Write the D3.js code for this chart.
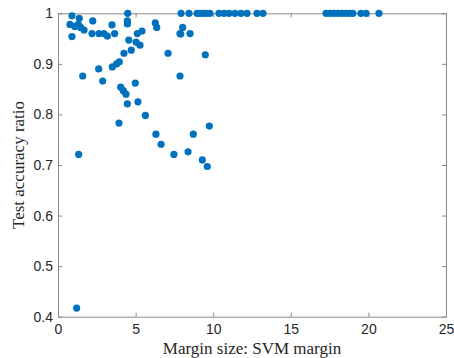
<!DOCTYPE html>
<html>
<head>
<meta charset="utf-8">
<script src="https://cdn.jsdelivr.net/npm/d3@7"></script>
<style>
  html, body { margin: 0; padding: 0; background: #fff; }
  svg { display: block; }
</style>
</head>
<body>
<svg id="chart" width="454" height="358"></svg>
<script>
// SVM margin vs. test accuracy ratio, one point per run
const marginValues = [
  0.90, 1.37, 0.77, 1.08, 1.31, 1.46, 1.68, 0.90, 2.24, 2.19,
  2.64, 2.96, 3.18, 3.48, 3.65, 4.49, 4.47, 4.47, 5.11, 5.41,
  4.56, 5.03, 5.28, 4.72, 4.25, 6.27, 6.36, 7.09, 7.86, 3.95,
  3.78, 3.50, 2.62, 1.59, 2.88, 4.04, 4.21, 4.38, 4.98, 4.47,
  5.15, 7.86, 1.33, 3.93, 5.63, 6.31, 6.64, 7.47, 9.75, 8.72,
  8.38, 9.30, 9.62, 8.03, 7.91, 8.51, 9.49, 1.20,
  // runs that reached full accuracy
  7.93, 8.44, 8.96, 9.15, 9.34, 9.54, 9.79, 10.37, 10.70, 11.02,
  11.40, 11.79, 12.18, 12.82, 13.21,
  17.27, 17.53, 17.78, 18.04, 18.30, 18.56, 18.81, 19.00, 19.52, 19.85, 20.68
];
const accuracyValues = [
  0.995, 0.990, 0.978, 0.974, 0.978, 0.972, 0.967, 0.954, 0.985, 0.960,
  0.960, 0.960, 0.955, 0.977, 0.960, 1.000, 0.985, 0.979, 0.960, 0.965,
  0.947, 0.943, 0.937, 0.927, 0.921, 0.981, 0.972, 0.921, 0.960, 0.904,
  0.900, 0.894, 0.890, 0.876, 0.866, 0.854, 0.847, 0.840, 0.862, 0.821,
  0.825, 0.876, 0.721, 0.783, 0.798, 0.761, 0.741, 0.721, 0.777, 0.761,
  0.726, 0.710, 0.697, 0.972, 0.959, 0.960, 0.918, 0.417,
  1, 1, 1, 1, 1, 1, 1, 1, 1, 1,
  1, 1, 1, 1, 1,
  1, 1, 1, 1, 1, 1, 1, 1, 1, 1, 1
];
const xTicks = [0, 5, 10, 15, 20, 25];
const yTicks = [0.4, 0.5, 0.6, 0.7, 0.8, 0.9, 1];
const xLabel = "Margin size: SVM margin";
const yLabel = "Test accuracy ratio";

const points = marginValues.map((m, i) => ({ x: m, y: accuracyValues[i] }));

const svg = d3.select("#chart");
const plotLeft = 58, plotRight = 446, plotTop = 13.3, plotBottom = 316.7;

const x = d3.scaleLinear().domain([0, 25]).range([plotLeft, plotRight]);
const y = d3.scaleLinear().domain([0.4, 1]).range([plotBottom, plotTop]);

const axisColor = "#8a8a8a";
const textColor = "#262626";
const tickLen = 4;

function styleAxis(g) {
  g.select(".domain").attr("stroke", axisColor).attr("stroke-width", 1);
  g.selectAll(".tick line").attr("stroke", axisColor).attr("stroke-width", 1);
  g.selectAll(".tick text")
    .attr("fill", textColor)
    .style("font-family", "'Liberation Sans', Arial, sans-serif")
    .style("font-size", "14px");
}

// bottom axis with inward ticks
svg.append("g")
  .attr("transform", `translate(0,${plotBottom})`)
  .call(d3.axisBottom(x).tickValues(xTicks).tickFormat(d3.format("d"))
    .tickSizeInner(-tickLen).tickSizeOuter(0).tickPadding(7))
  .call(styleAxis);

// left axis with inward ticks
svg.append("g")
  .attr("transform", `translate(${plotLeft},0)`)
  .call(d3.axisLeft(y).tickValues(yTicks).tickFormat(d => d === 1 ? "1" : d3.format(".1f")(d))
    .tickSizeInner(-tickLen).tickSizeOuter(0).tickPadding(5))
  .call(styleAxis);

// top and right edges of the box, ticks pointing inward
svg.append("g")
  .attr("transform", `translate(0,${plotTop})`)
  .call(d3.axisTop(x).tickValues(xTicks).tickFormat("")
    .tickSizeInner(-tickLen).tickSizeOuter(0))
  .call(styleAxis);

svg.append("g")
  .attr("transform", `translate(${plotRight},0)`)
  .call(d3.axisRight(y).tickValues(yTicks).tickFormat("")
    .tickSizeInner(-tickLen).tickSizeOuter(0))
  .call(styleAxis);

// data points
svg.append("g")
  .selectAll("circle")
  .data(points)
  .join("circle")
  .attr("cx", d => x(d.x))
  .attr("cy", d => y(d.y))
  .attr("r", 3.6)
  .attr("fill", "#0072BD");

// axis titles
svg.append("text")
  .attr("x", (plotLeft + plotRight) / 2)
  .attr("y", 354)
  .attr("text-anchor", "middle")
  .attr("fill", textColor)
  .style("font-family", "'Liberation Serif', 'DejaVu Serif', serif")
  .style("font-size", "17px")
  .text(xLabel);

svg.append("text")
  .attr("transform", `translate(24,${(plotTop + plotBottom) / 2}) rotate(-90)`)
  .attr("text-anchor", "middle")
  .attr("fill", textColor)
  .style("font-family", "'Liberation Serif', 'DejaVu Serif', serif")
  .style("font-size", "17px")
  .text(yLabel);
</script>
</body>
</html>
